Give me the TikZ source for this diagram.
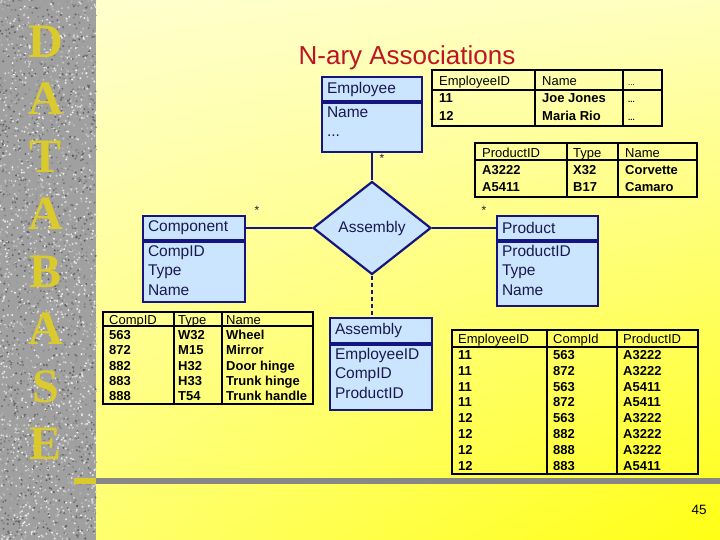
\documentclass[tikz,border=0pt]{standalone}
\usepackage{fontspec}
\setmainfont{Liberation Sans}
\newfontfamily\dbfont{Liberation Serif}
\usetikzlibrary{shapes,shadings,positioning,calc}

\definecolor{boxblue}{RGB}{204,229,255}
\definecolor{navyline}{RGB}{20,20,130}
\definecolor{boxtext}{RGB}{25,25,80}
\definecolor{titlered}{RGB}{190,20,35}
\definecolor{dbgold}{RGB}{218,202,45}
\definecolor{granite}{RGB}{160,160,160}
\definecolor{bgtl}{RGB}{255,255,205}
\definecolor{bgtr}{RGB}{255,255,190}
\definecolor{bgbl}{RGB}{255,255,110}
\definecolor{bgbr}{RGB}{255,255,20}
\definecolor{rulegray}{RGB}{135,135,135}

\begin{document}
\begin{tikzpicture}[
    x=1pt, y=-1pt,
    classhead/.style={draw=navyline, line width=2.2pt, fill=boxblue, text=boxtext, align=left, inner xsep=5pt, inner ysep=0pt, font=\fontsize{15.5}{19.5}\selectfont},
    classbody/.style={classhead, anchor=north, inner ysep=3pt, text height=11pt},
    relation/.style={diamond, draw=navyline, line width=2.2pt, fill=boxblue, text=boxtext, inner sep=0pt, font=\fontsize{15.5}{19.5}\selectfont},
    link/.style={draw=navyline, line width=2.5pt},
    mult/.style={text=boxtext, font=\fontsize{12}{12}\selectfont},
    tabcol/.style={anchor=base west, align=left, inner sep=0pt, font=\fontsize{13}{#1}\selectfont},
    tabline/.style={draw=black, line width=1.1pt},
    slidetitle/.style={text=titlered, font=\fontsize{26}{30}\selectfont},
    dbletter/.style={text=dbgold, font=\dbfont\bfseries\fontsize{48}{48}\selectfont},
]

\useasboundingbox (0,0) rectangle (720,540);

% Slide background
\shade[upper left=bgtl, upper right=bgtr, lower left=bgbl, lower right=bgbr] (96,0) rectangle (720,540);
\fill[granite] (0,0) rectangle (96,540);
\pgfmathsetseed{42}
\foreach \k in {1,...,3500}{
  \pgfmathsetmacro{\sx}{96*rnd}
  \pgfmathsetmacro{\sy}{540*rnd}
  \pgfmathtruncatemacro{\sg}{5+60*rnd}
  \fill[black!\sg!white] (\sx,\sy) circle[radius=1.1];
}
\draw[line width=6pt, dbgold] (74,481) -- (96,481);
\draw[line width=6pt, rulegray] (96,481) -- (720,481);

% Side letters
\node[dbletter] (dbD) at (46,41.5) {D};
\node[dbletter] (dbA1) at (46,99) {A};
\node[dbletter] (dbT) at (46,156.5) {T};
\node[dbletter] (dbA2) at (46,214) {A};
\node[dbletter] (dbB) at (46,271.5) {B};
\node[dbletter] (dbA3) at (46,329) {A};
\node[dbletter] (dbS) at (46,386.5) {S};
\node[dbletter] (dbE) at (46,444) {E};

\node[slidetitle] (title) at (407,58) {N-ary Associations};

% Classes
\node[classhead, text width=90pt, minimum height=24pt] (emphead) at (372,89) {Employee};
\node[classbody, text width=90pt, text depth=32pt] (empbody) at (emphead.south) {Name\\...};

\node[classhead, text width=92pt, minimum height=24pt] (comphead) at (194,228) {Component};
\node[classbody, text width=92pt, text depth=43pt] (compbody) at (comphead.south) {CompID\\Type\\Name};

\node[classhead, text width=91pt, minimum height=24pt] (prodhead) at (547.5,228) {Product};
\node[classbody, text width=91pt, text depth=47pt] (prodbody) at (prodhead.south) {ProductID\\Type\\Name};

\node[classhead, text width=92pt, minimum height=25pt] (asmhead) at (381,330.5) {Assembly};
\node[classbody, text width=92pt, text depth=48pt] (asmbody) at (asmhead.south) {EmployeeID\\CompID\\ProductID};

% Association
\node[relation, minimum width=118pt, minimum height=93pt] (assoc) at (372,228) {Assembly};

\draw[link] (empbody) -- (assoc);
\draw[link] (comphead.east) -- (assoc.west);
\draw[link] (assoc.east) -- (prodhead.west);
\draw[link, dash pattern=on 4pt off 3pt] (assoc.south) -- (assoc.south |- asmhead.north);

\node[mult] (empmult) at (382,158) {*};
\node[mult] (compmult) at (257,210) {*};
\node[mult] (prodmult) at (484,210) {*};

% Employee table (columns placed by the baseline of their last row)
\draw[tabline] (432,70) rectangle (662,126);
\draw[tabline] (432,90) -- (662,90);
\draw[tabline] (535,70) -- (535,126);
\draw[tabline] (623,70) -- (623,126);
\node[tabcol=17.5] (emptabid) at (439,120.5) {EmployeeID\\\textbf{11}\\\textbf{12}};
\node[tabcol=17.5] (emptabname) at (542,120.5) {Name\\\textbf{Joe Jones}\\\textbf{Maria Rio}};
\node[tabcol=17.5, font=\fontsize{8}{17.5}\selectfont] (emptabmore) at (628,120.5) {...\\\textbf{...}\\\textbf{...}};

% Product table
\draw[tabline] (475,143) rectangle (697,197);
\draw[tabline] (475,160) -- (697,160);
\draw[tabline] (567,143) -- (567,197);
\draw[tabline] (618,143) -- (618,197);
\node[tabcol=17] (prodtabid) at (482,191.5) {ProductID\\\textbf{A3222}\\\textbf{A5411}};
\node[tabcol=17] (prodtabtype) at (573,191.5) {Type\\\textbf{X32}\\\textbf{B17}};
\node[tabcol=17] (prodtabname) at (625,191.5) {Name\\\textbf{Corvette}\\\textbf{Camaro}};

% Component table
\draw[tabline] (103,312) rectangle (313,404);
\draw[tabline] (103,326) -- (313,326);
\draw[tabline] (174,312) -- (174,404);
\draw[tabline] (222,312) -- (222,404);
\node[tabcol=15.2] (comptabid) at (109,400.5) {CompID\\\textbf{563}\\\textbf{872}\\\textbf{882}\\\textbf{883}\\\textbf{888}};
\node[tabcol=15.2] (comptabtype) at (178,400.5) {Type\\\textbf{W32}\\\textbf{M15}\\\textbf{H32}\\\textbf{H33}\\\textbf{T54}};
\node[tabcol=15.2] (comptabname) at (226,400.5) {Name\\\textbf{Wheel}\\\textbf{Mirror}\\\textbf{Door hinge}\\\textbf{Trunk hinge}\\\textbf{Trunk handle}};

% Assembly table
\draw[tabline] (452,330) rectangle (698,474);
\draw[tabline] (452,347) -- (698,347);
\draw[tabline] (547,330) -- (547,474);
\draw[tabline] (617,330) -- (617,474);
\node[tabcol=15.85] (asmtabemp) at (458,470.3) {EmployeeID\\\textbf{11}\\\textbf{11}\\\textbf{11}\\\textbf{11}\\\textbf{12}\\\textbf{12}\\\textbf{12}\\\textbf{12}};
\node[tabcol=15.85] (asmtabcomp) at (553,470.3) {CompId\\\textbf{563}\\\textbf{872}\\\textbf{563}\\\textbf{872}\\\textbf{563}\\\textbf{882}\\\textbf{888}\\\textbf{883}};
\node[tabcol=15.85] (asmtabprod) at (623,470.3) {ProductID\\\textbf{A3222}\\\textbf{A3222}\\\textbf{A5411}\\\textbf{A5411}\\\textbf{A3222}\\\textbf{A3222}\\\textbf{A3222}\\\textbf{A5411}};

\node[font=\fontsize{13.5}{16}\selectfont] (pagenum) at (699,510) {45};

\end{tikzpicture}
\end{document}
